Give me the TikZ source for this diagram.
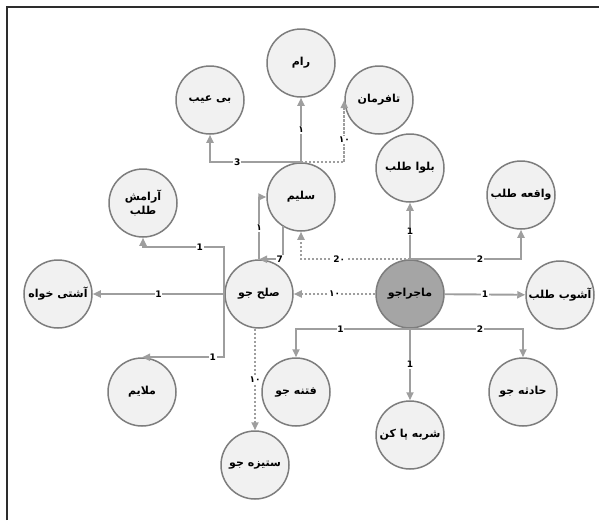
\documentclass[tikz,border=0pt]{standalone}
\usepackage{fontspec}
\newfontfamily\farsi[Script=Arabic]{DejaVu Sans}
\TeXXeTstate=1
\usetikzlibrary{arrows.meta}
\definecolor{nodefill}{RGB}{241,241,241}
\definecolor{mainfill}{RGB}{165,165,165}
\definecolor{nodeline}{RGB}{125,125,125}
\definecolor{edgeline}{RGB}{158,158,158}
\definecolor{framecol}{RGB}{45,45,45}
\newcommand{\fatext}[1]{\beginR #1\endR}

\begin{document}
\begin{tikzpicture}[
  x=1pt, y=-1pt,
  circ/.style={draw=nodeline, circle, line width=1.5pt, fill=nodefill, minimum size=68pt, inner sep=0pt, align=center, font=\farsi\bfseries\fontsize{11}{14}\selectfont},
  mainnode/.style={circ, fill=mainfill},
  arrow/.style={-{Triangle[length=8pt,width=7pt]}, draw=edgeline, line width=1.9pt},
  dsh/.style={dash pattern=on 2.2pt off 1.8pt},
  lbl/.style={fill=white, inner sep=0.8pt, font=\farsi\bfseries\fontsize{9}{10}\selectfont}
]
\useasboundingbox (0,0) rectangle (599,520);
\draw[framecol, line width=1.6pt] (7,520) -- (7,7) -- (599,7);

\node[mainnode] (majara) at (410,294) {\fatext{ماجراجو}};
\node[circ] (solh) at (259,294) {\fatext{صلح جو}};
\node[circ] (salim) at (301,197) {\fatext{سلیم}};
\node[circ] (ram) at (301,63) {\fatext{رام}};
\node[circ] (bieyb) at (210,100) {\fatext{بی عیب}};
\node[circ] (tafarman) at (379,100) {\fatext{تافرمان}};
\node[circ] (bolva) at (410,168) {\fatext{بلوا طلب}};
\node[circ] (vaghee) at (521,195) {\fatext{واقعه طلب}};
\node[circ] (ashub) at (560,295) {\fatext{آشوب طلب}};
\node[circ] (aramesh) at (143,203) {\fatext{آرامش}\\\fatext{طلب}};
\node[circ] (ashti) at (58,294) {\fatext{آشتی خواه}};
\node[circ] (molayem) at (142,392) {\fatext{ملایم}};
\node[circ] (fetne) at (296,392) {\fatext{فتنه جو}};
\node[circ] (setize) at (255,465) {\fatext{ستیزه جو}};
\node[circ] (sharbe) at (410,435) {\fatext{شربه پا کن}};
\node[circ] (hadese) at (523,392) {\fatext{حادثه جو}};
\coordinate (arameshY) at (0,247);

% majarajo
\draw[arrow, dsh] (majara) -- node[lbl]{۱۰} (solh);
\draw[arrow, dsh] (majara.north) -- node[lbl, pos=.65]{2۰} (salim |- majara.north) -- (salim.south);
\draw[arrow] (majara.north) -- node[lbl]{1} (bolva.south);
\draw[arrow] (majara.north) -- node[lbl, pos=.63]{2} (vaghee.south |- majara.north) -- (vaghee.south);
\draw[arrow] (majara) -- node[lbl]{1} (ashub);
\draw[arrow] (majara.south) -- node[lbl, pos=.62]{2} (hadese.north |- majara.south) -- (hadese.north);
\draw[arrow] (majara.south) -- node[lbl, pos=.61]{1} (fetne.north |- majara.south) -- (fetne.north);
\draw[arrow] (majara) -- node[lbl]{1} (sharbe);

% solh jo
\draw[arrow] (solh) -- node[lbl]{1} (ashti);
\draw[arrow] (solh.west) -- (solh.west |- arameshY) -- node[lbl, pos=.3]{1} (aramesh.south |- arameshY) -- (aramesh.south);
\draw[arrow] (solh.west) |- node[lbl, pos=.57]{1} (molayem.north);
\draw[arrow] (solh.north) |- node[lbl, pos=.25]{۱} (salim.west);
\draw[arrow, dsh] (setize.north |- solh.south) -- node[lbl]{۱۰} (setize.north);

% salim
\draw[arrow] (salim.238) |- node[lbl, pos=.56]{7} (solh.north);
\draw[arrow] (salim.north) -| node[lbl, pos=.35]{3} (bieyb.south);
\draw[arrow] (salim.north) -- node[lbl]{۱} (ram.south);
\draw[arrow, dsh] (salim.north) -| node[lbl, pos=.68]{۱۰} (tafarman.west);
\end{tikzpicture}
\end{document}
